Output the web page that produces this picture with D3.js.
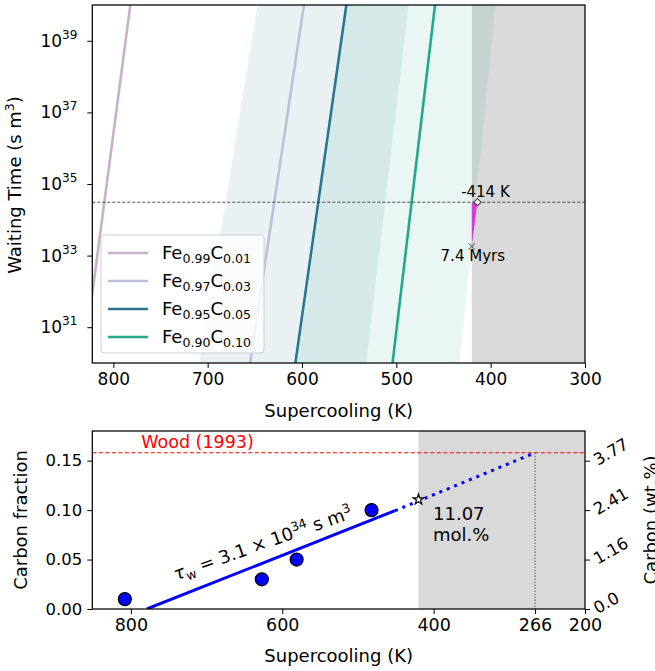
<!DOCTYPE html>
<html>
<title>Waiting time vs supercooling</title>
<meta charset="UTF-8">
<script type="text/javascript" src="https://d3js.org/d3.v7.min.js"></script>
<style type="text/css">
	body {
		margin:0;
		background:white;
	}
	svg text {
		font-family: "DejaVu Sans", sans-serif;
		fill: black;
	}
	.tick line {
		stroke: black;
		stroke-width: 1;
	}
</style>
<body>
	<svg id="viz" width="655" height="671"></svg>
</body>
<script type="text/javascript">

	// ---- top panel data ----
	var feFrac = ["0.99", "0.97", "0.95", "0.90"];
	var cFrac = ["0.01", "0.03", "0.05", "0.10"];
	var tauEnds = [1e30, 1e40];
	// supercooling (K) of each curve at tau = 1e30 and tau = 1e40
	var lineK = [[832, 782], [655, 598], [607, 553], [504, 459]];
	// uncertainty bands (Fe0.95 and Fe0.90), edges at tau = 1e30 and 1e40
	var bandLeftK = [[709, 647], [605, 552]];
	var bandRightK = [[532, 487], [433, 395]];
	var tauTarget = 3.1e34;
	var limitK = 420;
	var diamondK = 414;
	var crossTau = 1.8e33;
	var topXTicks = [800, 700, 600, 500, 400, 300];
	var topYExp = [31, 33, 35, 37, 39];

	// ---- bottom panel data ----
	var pointK = [808, 627, 581, 482];
	var pointC = [0.01, 0.03, 0.05, 0.10];
	var fitSolid = [[779, 0], [451, 0.0994]];
	var fitDotted = [[451, 0.0994], [266, 0.158]];
	var woodC = 0.158;
	var starPoint = [420, 0.1107];
	var bottomXTicks = [800, 600, 400, 266, 200];
	var leftTicks = [0, 0.05, 0.10, 0.15];
	var rightTicks = [0, 0.05, 0.10, 0.15];
	var rightLabels = ["0.0", "1.16", "2.41", "3.77"];

	var lineColors = ["#c8b0ca", "#bfbfd9", "#2a768e", "#25a886"];
	var bandColors = ["#2a768e", "#25a886"];

	var svg = d3.select("#viz");

	// ================= TOP PANEL =================
	var T = {left: 92.3, right: 585, top: 5, bottom: 363};
	var xT = d3.scaleLinear().domain([822.3, 300]).range([T.left, T.right]);
	var yT = d3.scaleLog().domain([1e30, 1e40]).range([T.bottom, T.top]);

	svg.append("clipPath").attr("id", "clipTop")
		.append("rect")
		.attr("x", T.left).attr("y", T.top)
		.attr("width", T.right - T.left).attr("height", T.bottom - T.top);

	var gTop = svg.append("g").attr("clip-path", "url(#clipTop)");

	gTop.append("rect")
		.attr("x", xT(limitK)).attr("y", T.top)
		.attr("width", xT(300) - xT(limitK)).attr("height", T.bottom - T.top)
		.attr("fill", "#d9d9d9");

	bandLeftK.forEach(function(l, i){
		var r = bandRightK[i];
		var pts = [[l[0], tauEnds[0]], [l[1], tauEnds[1]], [r[1], tauEnds[1]], [r[0], tauEnds[0]]];
		gTop.append("path")
			.attr("d", d3.line().x(function(d){ return xT(d[0]); }).y(function(d){ return yT(d[1]); })(pts) + "Z")
			.attr("fill", bandColors[i])
			.attr("fill-opacity", 0.1);
	});

	var lineT = d3.line()
		.x(function(d){ return xT(d[0]); })
		.y(function(d){ return yT(d[1]); });

	lineK.forEach(function(k, i){
		gTop.append("path")
			.attr("d", lineT([[k[0], tauEnds[0]], [k[1], tauEnds[1]]]))
			.attr("fill", "none")
			.attr("stroke", lineColors[i])
			.attr("stroke-width", 2.6);
	});

	gTop.append("line")
		.attr("x1", T.left).attr("x2", T.right)
		.attr("y1", yT(tauTarget)).attr("y2", yT(tauTarget))
		.attr("stroke", "#222").attr("stroke-width", 0.8)
		.attr("stroke-dasharray", "3,2");

	// magenta wedge
	gTop.append("path")
		.attr("d", lineT([[limitK, tauTarget], [diamondK, tauTarget], [limitK, crossTau]]) + "Z")
		.attr("fill", "#d23fd6");

	var dx = xT(diamondK), dy = yT(tauTarget);
	gTop.append("path")
		.attr("d", d3.symbol(d3.symbolSquare, 26)())
		.attr("transform", "translate(" + dx + "," + dy + ") rotate(45)")
		.attr("fill", "white").attr("stroke", "#333").attr("stroke-width", 1);

	var cx = xT(limitK), cy = yT(crossTau);
	gTop.append("path")
		.attr("d", "M" + (cx - 3) + "," + (cy - 3) + "L" + (cx + 3) + "," + (cy + 3) +
			"M" + (cx - 3) + "," + (cy + 3) + "L" + (cx + 3) + "," + (cy - 3))
		.attr("stroke", "#333").attr("stroke-width", 1);

	svg.append("text")
		.attr("x", dx + 8).attr("y", dy - 5)
		.attr("text-anchor", "middle").attr("font-size", 15)
		.text("-" + diamondK + " K");

	svg.append("text")
		.attr("x", cx + 1).attr("y", cy + 15)
		.attr("text-anchor", "middle").attr("font-size", 15)
		.text("7.4 Myrs");

	// axes
	var xAxisT = svg.append("g")
		.attr("transform", "translate(0," + T.bottom + ")")
		.call(d3.axisBottom(xT).tickValues(topXTicks).tickSize(5).tickSizeOuter(0).tickPadding(5));
	xAxisT.select(".domain").remove();
	xAxisT.selectAll("text").attr("font-size", 17).attr("font-family", "DejaVu Sans");

	var yAxisT = svg.append("g")
		.attr("transform", "translate(" + T.left + ",0)")
		.call(d3.axisLeft(yT).tickValues(topYExp.map(function(e){ return Math.pow(10, e); }))
			.tickSize(5).tickSizeOuter(0).tickPadding(10).tickFormat(""));
	yAxisT.select(".domain").remove();
	yAxisT.selectAll(".tick text")
		.attr("font-size", 17).attr("font-family", "DejaVu Sans")
		.each(function(d){
			var t = d3.select(this);
			t.text("10");
			t.append("tspan").attr("dy", "-8").attr("font-size", 12)
				.text(Math.round(Math.log10(d)));
		});

	svg.append("rect")
		.attr("x", T.left).attr("y", T.top)
		.attr("width", T.right - T.left).attr("height", T.bottom - T.top)
		.attr("fill", "none").attr("stroke", "black").attr("stroke-width", 1.25);

	svg.append("text")
		.attr("x", (T.left + T.right) / 2).attr("y", 417)
		.attr("text-anchor", "middle").attr("font-size", 18)
		.text("Supercooling (K)");

	var ylab = svg.append("text")
		.attr("transform", "translate(21," + ((T.top + T.bottom) / 2 + 1) + ") rotate(-90)")
		.attr("text-anchor", "middle").attr("font-size", 18)
		.text("Waiting Time (s m");
	ylab.append("tspan").attr("dy", -7).attr("font-size", 12.5).text("3");
	ylab.append("tspan").attr("dy", 7).text(")");

	// legend
	var lg = svg.append("g").attr("transform", "translate(101,235)");
	lg.append("rect")
		.attr("width", 163).attr("height", 118).attr("rx", 3)
		.attr("fill", "white").attr("fill-opacity", 0.8)
		.attr("stroke", "#d0d0d0").attr("stroke-width", 1);
	feFrac.forEach(function(f, i){
		var yy = 18 + i * 28;
		lg.append("line")
			.attr("x1", 7).attr("x2", 47).attr("y1", yy).attr("y2", yy)
			.attr("stroke", lineColors[i]).attr("stroke-width", 2.6);
		var t = lg.append("text").attr("x", 61).attr("y", yy + 6).attr("font-size", 18);
		t.append("tspan").text("Fe");
		t.append("tspan").attr("dy", 4).attr("font-size", 12.6).text(f);
		t.append("tspan").attr("dy", -4).text("C");
		t.append("tspan").attr("dy", 4).attr("font-size", 12.6).text(cFrac[i]);
	});

	// ================= BOTTOM PANEL =================
	var B = {left: 92.3, right: 585, top: 431, bottom: 609};
	var xB = d3.scaleLinear().domain([851, 200]).range([B.left, B.right]);
	var yB = d3.scaleLinear().domain([0, 0.18]).range([B.bottom, B.top]);

	svg.append("clipPath").attr("id", "clipBot")
		.append("rect")
		.attr("x", B.left).attr("y", B.top)
		.attr("width", B.right - B.left).attr("height", B.bottom - B.top);

	var gBot = svg.append("g").attr("clip-path", "url(#clipBot)");

	gBot.append("rect")
		.attr("x", xB(limitK)).attr("y", B.top)
		.attr("width", xB(200) - xB(limitK)).attr("height", B.bottom - B.top)
		.attr("fill", "#d9d9d9");

	gBot.append("line")
		.attr("x1", B.left).attr("x2", B.right)
		.attr("y1", yB(woodC)).attr("y2", yB(woodC))
		.attr("stroke", "red").attr("stroke-width", 1.2)
		.attr("stroke-dasharray", "4,2.5");

	gBot.append("line")
		.attr("x1", xB(fitDotted[1][0])).attr("x2", xB(fitDotted[1][0]))
		.attr("y1", yB(fitDotted[1][1])).attr("y2", yB(0))
		.attr("stroke", "#222").attr("stroke-width", 1)
		.attr("stroke-dasharray", "1,2");

	var lineB = d3.line()
		.x(function(d){ return xB(d[0]); })
		.y(function(d){ return yB(d[1]); });

	gBot.append("path")
		.attr("d", lineB(fitSolid))
		.attr("fill", "none").attr("stroke", "#0000ff").attr("stroke-width", 3);

	gBot.append("path")
		.attr("d", lineB(fitDotted))
		.attr("fill", "none").attr("stroke", "#0000ff").attr("stroke-width", 3)
		.attr("stroke-dasharray", "3,5");

	gBot.selectAll("circle")
		.data(pointK)
		.enter().append("circle")
		.attr("cx", function(d){ return xB(d); })
		.attr("cy", function(d, i){ return yB(pointC[i]); })
		.attr("r", 6.5)
		.attr("fill", "#0000ff").attr("stroke", "black").attr("stroke-width", 1.2);

	gBot.append("path")
		.attr("d", d3.symbol(d3.symbolStar, 34)())
		.attr("transform", "translate(" + xB(starPoint[0]) + "," + yB(starPoint[1]) + ")")
		.attr("fill", "white").attr("stroke", "black").attr("stroke-width", 1.2);

	svg.append("text")
		.attr("x", 197.5).attr("y", 448)
		.attr("text-anchor", "middle").attr("font-size", 17.5)
		.style("fill", "red")
		.text("Wood (1993)");

	var mol = svg.append("text").attr("font-size", 18);
	mol.append("tspan").attr("x", 433).attr("y", 520).text((starPoint[1] * 100).toFixed(2));
	mol.append("tspan").attr("x", 433).attr("y", 541).text("mol.%");

	var tau = svg.append("text")
		.attr("transform", "translate(265,549) rotate(-19.5)")
		.attr("text-anchor", "middle").attr("font-size", 18);
	tau.append("tspan").attr("font-style", "italic").text("\u03c4");
	tau.append("tspan").attr("dy", 4).attr("font-size", 12.6).text("w");
	tau.append("tspan").attr("dy", -4).text(" = 3.1 \u00d7 10");
	tau.append("tspan").attr("dy", -7).attr("font-size", 12.6).text("34");
	tau.append("tspan").attr("dy", 7).text(" s m");
	tau.append("tspan").attr("dy", -7).attr("font-size", 12.6).text("3");

	// axes
	var xAxisB = svg.append("g")
		.attr("transform", "translate(0," + B.bottom + ")")
		.call(d3.axisBottom(xB).tickValues(bottomXTicks).tickSize(5).tickSizeOuter(0).tickPadding(5));
	xAxisB.select(".domain").remove();
	xAxisB.selectAll("text").attr("font-size", 17.5).attr("font-family", "DejaVu Sans");

	var yAxisB = svg.append("g")
		.attr("transform", "translate(" + B.left + ",0)")
		.call(d3.axisLeft(yB).tickValues(leftTicks).tickSize(5).tickSizeOuter(0).tickPadding(5)
			.tickFormat(d3.format(".2f")));
	yAxisB.select(".domain").remove();
	yAxisB.selectAll("text").attr("font-size", 16.5).attr("font-family", "DejaVu Sans");

	var yAxisR = svg.append("g")
		.attr("transform", "translate(" + B.right + ",0)")
		.call(d3.axisRight(yB).tickValues(rightTicks).tickSize(5).tickSizeOuter(0)
			.tickFormat(function(d, i){ return rightLabels[i]; }));
	yAxisR.select(".domain").remove();
	yAxisR.selectAll(".tick text")
		.attr("font-size", 16.5).attr("font-family", "DejaVu Sans")
		.attr("x", 0).attr("dy", null)
		.attr("text-anchor", "start")
		.attr("dominant-baseline", "central")
		.attr("transform", "translate(10,0) rotate(-30)");

	svg.append("rect")
		.attr("x", B.left).attr("y", B.top)
		.attr("width", B.right - B.left).attr("height", B.bottom - B.top)
		.attr("fill", "none").attr("stroke", "black").attr("stroke-width", 1.25);

	svg.append("text")
		.attr("x", (B.left + B.right) / 2).attr("y", 661.5)
		.attr("text-anchor", "middle").attr("font-size", 18)
		.text("Supercooling (K)");

	svg.append("text")
		.attr("transform", "translate(27," + ((B.top + B.bottom) / 2) + ") rotate(-90)")
		.attr("text-anchor", "middle").attr("font-size", 18)
		.text("Carbon fraction");

	svg.append("text")
		.attr("transform", "translate(657,520) rotate(-90)")
		.attr("text-anchor", "middle").attr("font-size", 18)
		.text("Carbon (wt.%)");

</script>
</html>
